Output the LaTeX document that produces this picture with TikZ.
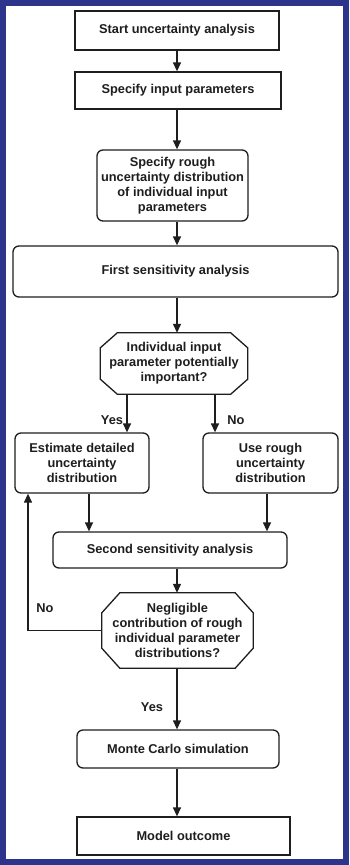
\documentclass[tikz,border=0pt]{standalone}
\usepackage{fontspec}
\setmainfont{Liberation Sans}
\usetikzlibrary{arrows.meta,calc}

\definecolor{ink}{RGB}{30,30,30}
\definecolor{framecol}{RGB}{44,52,140}

% octagon outline around a named node: node name, horizontal cut, vertical cut
\newcommand\drawoctagon[3]{%
  \draw[outline] ($(#1.north west)+(#2,0)$) -- ($(#1.north east)+(-#2,0)$)
    -- ($(#1.north east)+(0,#3)$) -- ($(#1.south east)+(0,-#3)$)
    -- ($(#1.south east)+(-#2,0)$) -- ($(#1.south west)+(#2,0)$)
    -- ($(#1.south west)+(0,-#3)$) -- ($(#1.north west)+(0,#3)$) -- cycle;}

\begin{document}
\begin{tikzpicture}[x=1pt,y=-1pt,
  txt/.style={font=\fontsize{12.8}{15}\selectfont\bfseries, text=ink, align=center},
  outline/.style={draw=ink, line width=1.3pt, line join=miter},
  sharpbox/.style={txt, outline, fill=white, inner sep=0pt},
  roundbox/.style={sharpbox, rounded corners=6pt},
  decision/.style={txt, inner sep=0pt},
  arr/.style={draw=ink, line width=1.3pt, -{Triangle[length=9pt,width=8pt]}},
  lbl/.style={txt}
]
\useasboundingbox (0,0) rectangle (349,865);
\fill[white] (0,0) rectangle (349,865);
\draw[framecol, line width=6pt] (3,3) rectangle (346,862);

% process steps
\node[sharpbox, minimum width=204pt, minimum height=39pt] (start) at (177,30.5) {Start uncertainty analysis};
\node[sharpbox, minimum width=206pt, minimum height=37pt] (input) at (178,90.5) {Specify input parameters};
\node[roundbox, minimum width=151pt, minimum height=71pt] (rough) at (172.5,185.5)
  {Specify rough\\uncertainty distribution\\of individual input\\parameters};
\node[roundbox, minimum width=325pt, minimum height=51pt] (first) at (175.5,271.5) {First sensitivity analysis};
\node[decision, minimum width=147pt, minimum height=61pt] (imp) at (174,363.5)
  {Individual input\\parameter potentially\\important?};
\drawoctagon{imp}{17}{15}
\node[roundbox, minimum width=134pt, minimum height=60pt] (detail) at (82,463)
  {Estimate detailed\\uncertainty\\distribution};
\node[roundbox, minimum width=135pt, minimum height=60pt] (userough) at (270.5,463)
  {Use rough\\uncertainty\\distribution};
\node[roundbox, minimum width=234pt, minimum height=36pt] (second) at (170,550) {Second sensitivity analysis};
\node[decision, minimum width=151pt, minimum height=75pt] (neg) at (177.5,630.5)
  {Negligible\\contribution of rough\\individual parameter\\distributions?};
\drawoctagon{neg}{18}{20}
\node[roundbox, minimum width=202pt, minimum height=38pt] (mc) at (178,749) {Monte Carlo simulation};
\node[sharpbox, minimum width=213pt, minimum height=38pt] (out) at (183.5,836) {Model outcome};

% helper columns for the branch and loop lines
\coordinate (main) at (177,0);
\coordinate (yescol) at (127,0);
\coordinate (nocol) at (215,0);
\coordinate (leftcol) at (89,0);
\coordinate (rightcol) at (267,0);
\coordinate (loopcol) at (28,0);

% connectors
\draw[arr] (start.south -| main) -- (input.north -| main);
\draw[arr] (input.south -| main) -- (rough.north -| main);
\draw[arr] (rough.south -| main) -- (first.north -| main);
\draw[arr] (first.south -| main) -- (imp.north -| main);
\draw[arr] (imp.south -| yescol) -- (detail.north -| yescol);
\draw[arr] (imp.south -| nocol) -- (userough.north -| nocol);
\draw[arr] (detail.south -| leftcol) -- (second.north -| leftcol);
\draw[arr] (userough.south -| rightcol) -- (second.north -| rightcol);
\draw[arr] (second.south -| main) -- (neg.north -| main);
\draw[arr] (neg.south -| main) -- (mc.north -| main);
\draw[arr] (mc.south -| main) -- (out.north -| main);
\draw[arr] (neg.west) -- (neg.west -| loopcol) -- (detail.south -| loopcol);

% branch labels
\node[lbl] (lyes1) at (112,420) {Yes};
\node[lbl] (lno1) at (236,420) {No};
\node[lbl] (lno2) at (45,608) {No};
\node[lbl] (lyes2) at (152,707) {Yes};
\end{tikzpicture}
\end{document}
